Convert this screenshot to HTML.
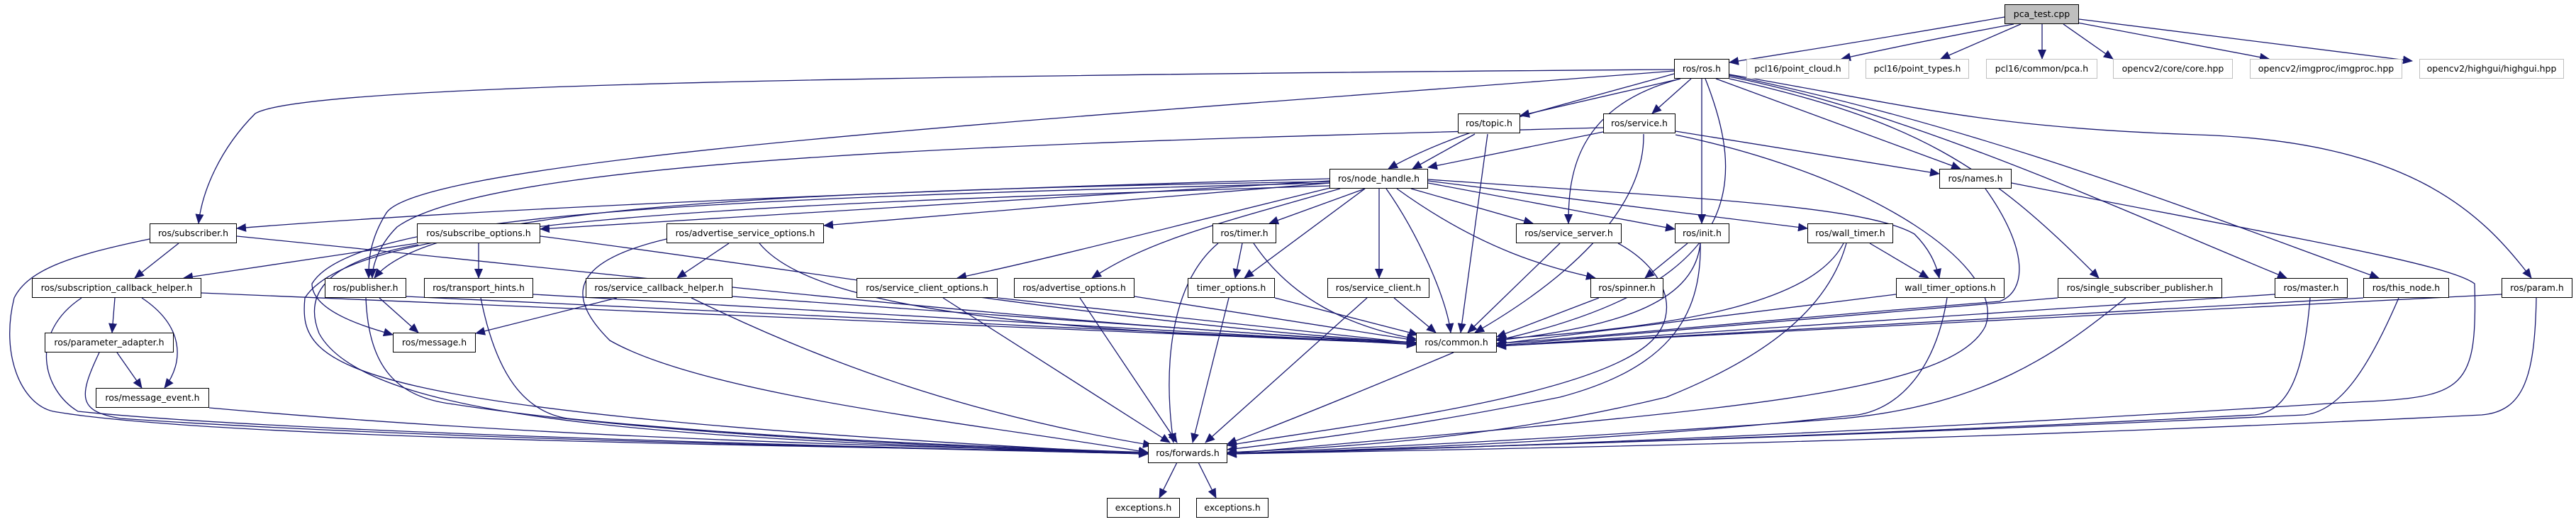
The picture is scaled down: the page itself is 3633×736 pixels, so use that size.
<!DOCTYPE html>
<html><head><meta charset="utf-8">
<style>
html,body{margin:0;padding:0;background:#fff;}
#c{position:relative;width:3633px;height:736px;overflow:hidden;background:#fff;}
svg{position:absolute;left:0;top:0;}
.n{position:absolute;height:26px;border:1.3px solid #000;background:#fff;box-sizing:content-box;
font-family:"DejaVu Sans","Liberation Sans",sans-serif;font-size:12.5px;line-height:26px;text-align:center;white-space:nowrap;color:#000;}
.g{border-color:#bfbfbf;}
.r{background:#bfbfbf;}
</style></head><body><div id="c">
<svg width="3633" height="736" viewBox="0 0 3633 736">
<defs><marker id="a" markerUnits="userSpaceOnUse" markerWidth="14" markerHeight="12" refX="13" refY="6" orient="auto"><path d="M0,0 L14,6 L0,12 z" fill="#191970"/></marker></defs>
<g fill="none" stroke="#191970" stroke-width="1.3" marker-end="url(#a)">
<path d="M2827,24 Q2650,55 2439,88"/>
<path d="M2840,34 Q2700,60 2597,83"/>
<path d="M2850,34 L2737,83"/>
<path d="M2880,34 L2880,83"/>
<path d="M2910,34 L2980,83"/>
<path d="M2930,32 L3200,83"/>
<path d="M2932,27 L3402,86"/>
<path d="M2361,98 C1000,108 420,125 360,160 C310,210 285,270 280,315"/>
<path d="M2361,100 C1600,160 600,220 545,300 C520,340 520,370 520,392"/>
<path d="M2361,104 C2200,150 2060,180 1958,238"/>
<path d="M2370,111 L2144,163"/>
<path d="M2385,111 L2330,160"/>
<path d="M2370,111 C2220,150 2212,250 2212,315"/>
<path d="M2400,111 L2400,315"/>
<path d="M2405,111 C2460,250 2470,400 2111,480"/>
<path d="M2420,111 L2765,238"/>
<path d="M2439,111 C2700,170 2800,230 2960,392"/>
<path d="M2439,108 C2700,160 3000,300 3225,392"/>
<path d="M2439,106 C2800,180 3100,300 3355,392"/>
<path d="M2439,105 C2700,150 2800,180 3100,190 C3400,200 3500,300 3570,392"/>
<path d="M2080,189 L1992,238"/>
<path d="M2098,189 L2060,469"/>
<path d="M2261,186 L2014,236"/>
<path d="M2363,185 L2735,245"/>
<path d="M2318,189 C2320,300 2200,400 2080,469"/>
<path d="M2363,190 C2650,250 2830,380 2800,460 C2750,560 2400,580 1731,640"/>
<path d="M2261,180 C1500,200 700,220 560,320 C530,350 525,380 525,392"/>
<path d="M1875,252 C1200,270 600,300 334,322"/>
<path d="M1875,255 L762,323"/>
<path d="M1875,258 L1162,318"/>
<path d="M1875,256 C1000,270 600,300 528,392"/>
<path d="M1875,258 C1000,280 500,300 440,400 C440,440 520,462 554,472"/>
<path d="M1875,262 C1000,290 500,310 430,420 C420,520 470,580 1619,640"/>
<path d="M1925,266 L1790,315"/>
<path d="M1925,266 L1755,392"/>
<path d="M1880,264 C1650,320 1500,360 1350,392"/>
<path d="M1890,266 C1700,320 1620,340 1540,392"/>
<path d="M1945,266 L1945,392"/>
<path d="M1955,266 C2000,330 2040,420 2046,469"/>
<path d="M1990,266 L2162,315"/>
<path d="M1970,266 C2100,360 2200,380 2250,392"/>
<path d="M2014,258 L2362,323"/>
<path d="M2014,255 L2549,322"/>
<path d="M2014,253 C2400,280 2630,290 2700,330 C2720,350 2730,370 2735,392"/>
<path d="M252,343 L190,392"/>
<path d="M334,333 C1000,400 1500,460 1997,483"/>
<path d="M211,337 C100,360 40,380 20,420 C0,500 30,570 75,580 C300,620 1200,630 1619,638"/>
<path d="M588,343 L259,392"/>
<path d="M675,343 L675,392"/>
<path d="M762,333 C1200,390 1600,460 1997,483"/>
<path d="M590,345 C450,370 430,420 450,470 C520,600 1000,620 1619,640"/>
<path d="M1028,343 L955,392"/>
<path d="M1071,343 C1150,440 1500,470 1997,483"/>
<path d="M940,337 C800,370 800,420 860,480 C1000,560 1400,600 1619,638"/>
<path d="M162,420 L158,469"/>
<path d="M200,420 C260,460 260,510 232,547"/>
<path d="M284,413 L1997,485"/>
<path d="M115,420 C40,470 60,550 110,580 C400,610 1200,630 1619,640"/>
<path d="M535,420 L590,469"/>
<path d="M573,418 L1997,485"/>
<path d="M516,420 C520,520 560,560 640,570 C900,610 1300,630 1619,638"/>
<path d="M752,415 L1997,486"/>
<path d="M678,420 C700,530 740,580 800,590 C1100,620 1400,630 1619,638"/>
<path d="M870,420 L671,470"/>
<path d="M1033,418 L1997,486"/>
<path d="M975,420 C1200,530 1400,590 1625,628"/>
<path d="M165,497 L200,547"/>
<path d="M140,497 C110,560 110,580 170,590 C600,620 1300,632 1619,640"/>
<path d="M295,575 C800,620 1300,630 1619,638"/>
<path d="M1752,343 L1742,392"/>
<path d="M1768,343 C1820,420 1900,460 1997,478"/>
<path d="M1718,343 C1650,400 1640,520 1655,624"/>
<path d="M1407,420 L1997,484"/>
<path d="M1330,420 L1650,624"/>
<path d="M1600,418 L1997,480"/>
<path d="M1523,420 L1660,624"/>
<path d="M1798,420 L2000,472"/>
<path d="M1733,420 L1682,624"/>
<path d="M1966,420 L2025,469"/>
<path d="M1928,420 L1700,624"/>
<path d="M2200,343 L2070,469"/>
<path d="M2282,343 C2350,380 2370,440 2330,480 C2250,560 1900,600 1731,628"/>
<path d="M2380,343 L2320,392"/>
<path d="M2398,343 C2390,420 2300,460 2111,480"/>
<path d="M2398,343 C2400,450 2350,520 2200,560 C2000,600 1850,620 1731,634"/>
<path d="M2255,420 L2111,475"/>
<path d="M2637,343 L2720,392"/>
<path d="M2600,343 C2560,420 2400,460 2111,478"/>
<path d="M2604,343 C2580,430 2500,500 2350,560 C2100,620 1900,630 1731,638"/>
<path d="M2674,415 L2111,485"/>
<path d="M2746,420 C2730,520 2680,575 2620,585 C2300,620 2000,632 1731,640"/>
<path d="M2800,266 C2860,350 2860,410 2820,425 C2500,450 2200,480 2111,484"/>
<path d="M2837,258 C3200,330 3450,370 3490,400 C3495,560 3470,560 3300,568 C2800,600 2200,630 1731,640"/>
<path d="M2902,420 L2111,487"/>
<path d="M2998,420 C2900,500 2800,570 2600,590 C2200,620 1900,632 1731,640"/>
<path d="M3208,415 L2111,488"/>
<path d="M3258,420 C3250,520 3230,580 3180,585 C2500,620 2000,632 1731,640"/>
<path d="M3333,420 L2111,488"/>
<path d="M3383,420 C3340,520 3300,580 3250,585 C2500,620 2000,632 1731,640"/>
<path d="M3528,415 L2111,488"/>
<path d="M3577,420 C3575,530 3560,580 3500,585 C2800,620 2200,632 1731,640"/>
<path d="M2050,497 C1900,560 1800,600 1731,626"/>
<path d="M1660,652 L1635,702"/>
<path d="M1690,652 L1715,702"/>
</g>
</svg>
<div class="n r" style="left:2827px;top:6px;width:103px">pca_test.cpp</div>
<div class="n" style="left:2361px;top:83px;width:76px">ros/ros.h</div>
<div class="n g" style="left:2463px;top:83px;width:143px">pcl16/point_cloud.h</div>
<div class="n g" style="left:2631px;top:83px;width:144px">pcl16/point_types.h</div>
<div class="n g" style="left:2801px;top:83px;width:155px">pcl16/common/pca.h</div>
<div class="n g" style="left:2980px;top:83px;width:167px">opencv2/core/core.hpp</div>
<div class="n g" style="left:3173px;top:83px;width:213px">opencv2/imgproc/imgproc.hpp</div>
<div class="n g" style="left:3412px;top:83px;width:202px">opencv2/highgui/highgui.hpp</div>
<div class="n" style="left:2056px;top:160px;width:86px">ros/topic.h</div>
<div class="n" style="left:2261px;top:160px;width:100px">ros/service.h</div>
<div class="n" style="left:1875px;top:238px;width:137px">ros/node_handle.h</div>
<div class="n" style="left:2735px;top:238px;width:100px">ros/names.h</div>
<div class="n" style="left:211px;top:315px;width:121px">ros/subscriber.h</div>
<div class="n" style="left:588px;top:315px;width:172px">ros/subscribe_options.h</div>
<div class="n" style="left:940px;top:315px;width:220px">ros/advertise_service_options.h</div>
<div class="n" style="left:1710px;top:315px;width:88px">ros/timer.h</div>
<div class="n" style="left:2138px;top:315px;width:147px">ros/service_server.h</div>
<div class="n" style="left:2362px;top:315px;width:75px">ros/init.h</div>
<div class="n" style="left:2549px;top:315px;width:119px">ros/wall_timer.h</div>
<div class="n" style="left:45px;top:392px;width:237px">ros/subscription_callback_helper.h</div>
<div class="n" style="left:458px;top:392px;width:113px">ros/publisher.h</div>
<div class="n" style="left:598px;top:392px;width:152px">ros/transport_hints.h</div>
<div class="n" style="left:826px;top:392px;width:205px">ros/service_callback_helper.h</div>
<div class="n" style="left:1208px;top:392px;width:197px">ros/service_client_options.h</div>
<div class="n" style="left:1430px;top:392px;width:168px">ros/advertise_options.h</div>
<div class="n" style="left:1675px;top:392px;width:121px">timer_options.h</div>
<div class="n" style="left:1872px;top:392px;width:142px">ros/service_client.h</div>
<div class="n" style="left:2243px;top:392px;width:101px">ros/spinner.h</div>
<div class="n" style="left:2674px;top:392px;width:151px">wall_timer_options.h</div>
<div class="n" style="left:2902px;top:392px;width:230px">ros/single_subscriber_publisher.h</div>
<div class="n" style="left:3208px;top:392px;width:101px">ros/master.h</div>
<div class="n" style="left:3333px;top:392px;width:119px">ros/this_node.h</div>
<div class="n" style="left:3528px;top:392px;width:98px">ros/param.h</div>
<div class="n" style="left:63px;top:469px;width:180px">ros/parameter_adapter.h</div>
<div class="n" style="left:554px;top:469px;width:115px">ros/message.h</div>
<div class="n" style="left:1997px;top:469px;width:112px">ros/common.h</div>
<div class="n" style="left:135px;top:547px;width:158px">ros/message_event.h</div>
<div class="n" style="left:1619px;top:625px;width:110px">ros/forwards.h</div>
<div class="n" style="left:1561px;top:702px;width:101px">exceptions.h</div>
<div class="n" style="left:1687px;top:702px;width:100px">exceptions.h</div>
</div></body></html>
